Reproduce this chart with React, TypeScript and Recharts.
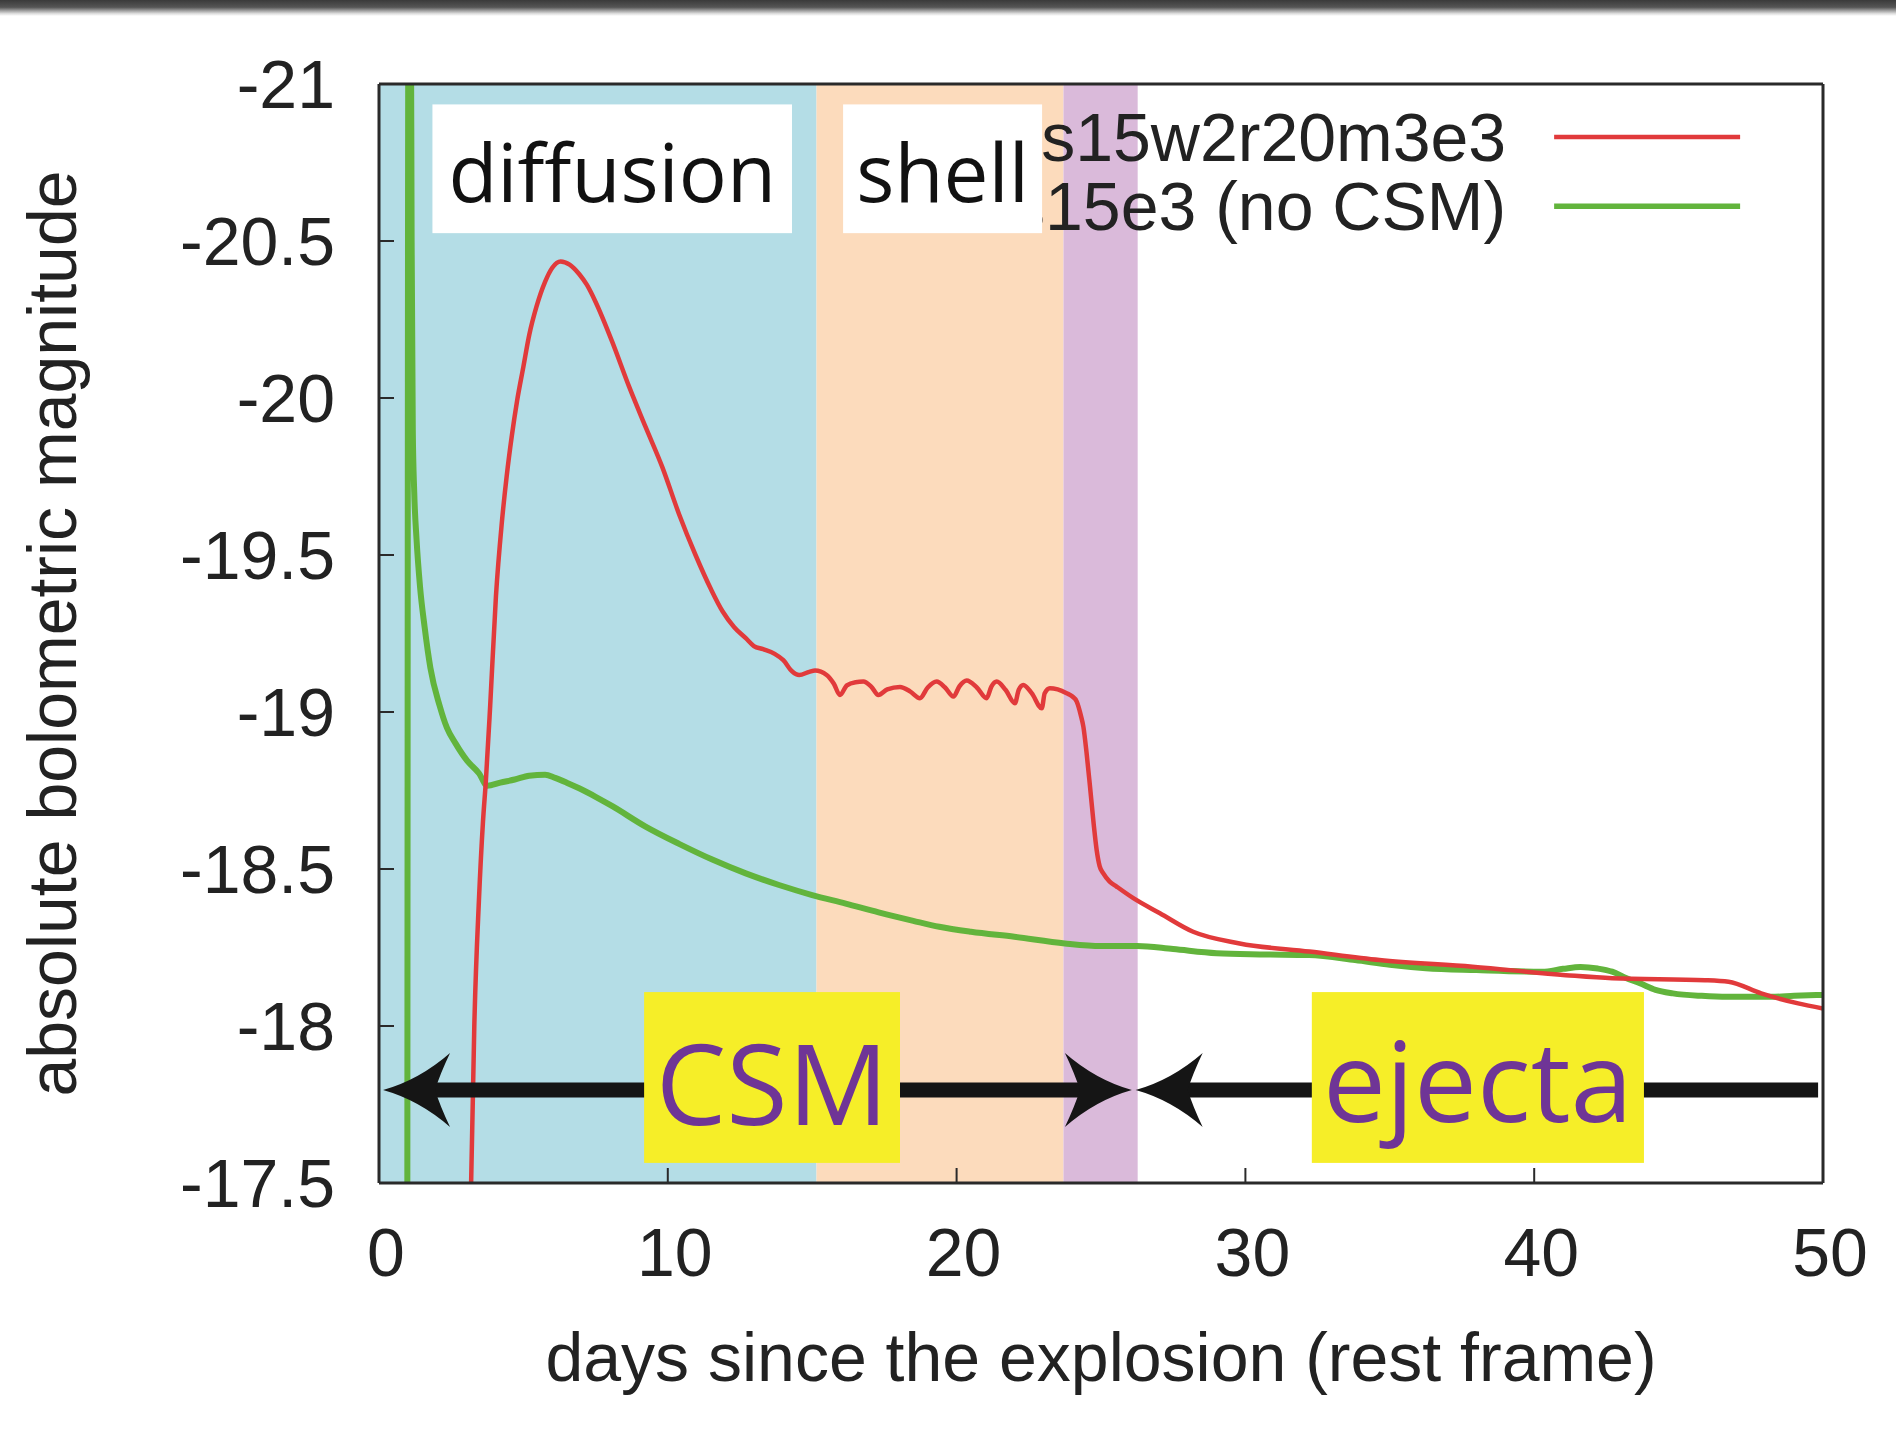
import React from 'react';
import { LineChart, Line, XAxis, YAxis, ReferenceArea, ReferenceLine, ReferenceDot } from 'recharts';

const xTicks = [0, 10, 20, 30, 40, 50];
const yTicks = [-21, -20.5, -20, -19.5, -19, -18.5, -18, -17.5];

const seriesNames = ['s15w2r20m3e3', 's15e3 (no CSM)'];
const seriesColors = ['#e13a3b', '#62b43c'];

const redDays = [3.12, 3.19, 3.3, 3.46, 3.6, 3.7, 3.85, 4.05, 4.25, 4.42, 4.6, 4.78, 5.0, 5.2, 5.45, 5.75, 6.0, 6.29, 6.6, 6.93, 7.2, 7.5, 8.08, 8.66, 9.23, 9.81, 10.39, 10.96, 11.5, 11.9, 12.3, 12.7, 12.98, 13.3, 13.7, 14.0, 14.3, 14.55, 14.9, 15.1, 15.5, 15.75, 15.96, 16.2, 16.5, 16.77, 17.05, 17.29, 17.6, 18.04, 18.4, 18.73, 19.0, 19.31, 19.6, 19.89, 20.1, 20.35, 20.7, 21.04, 21.2, 21.39, 21.7, 22.02, 22.15, 22.31, 22.6, 22.95, 23.05, 23.23, 23.5, 23.81, 24.0, 24.16, 24.3, 24.39, 24.5, 24.62, 24.75, 24.85, 24.95, 25.08, 25.3, 25.54, 26.12, 27.04, 28.19, 29.8, 32.22, 34.64, 37.86, 41.09, 42.7, 45.92, 46.73, 47.86, 49.14, 50];
const redMags = [-17.3, -17.5, -18.0, -18.4, -18.65, -18.78, -19.02, -19.37, -19.6, -19.75, -19.88, -19.99, -20.1, -20.2, -20.29, -20.37, -20.415, -20.435, -20.425, -20.395, -20.36, -20.306, -20.178, -20.036, -19.908, -19.78, -19.63, -19.5, -19.39, -19.32, -19.27, -19.235, -19.21, -19.2, -19.185, -19.165, -19.13, -19.118, -19.128, -19.132, -19.118, -19.09, -19.054, -19.085, -19.095, -19.097, -19.08, -19.054, -19.072, -19.08, -19.065, -19.044, -19.078, -19.097, -19.078, -19.049, -19.082, -19.1, -19.078, -19.044, -19.08, -19.097, -19.07, -19.028, -19.07, -19.086, -19.06, -19.012, -19.06, -19.076, -19.072, -19.06, -19.05, -19.033, -18.99, -18.953, -18.87, -18.762, -18.64, -18.56, -18.51, -18.486, -18.46, -18.444, -18.407, -18.359, -18.3, -18.263, -18.237, -18.21, -18.189, -18.162, -18.152, -18.146, -18.141, -18.104, -18.072, -18.056];

const greenDays = [0.98, 1.02, 1.1, 1.13, 1.17, 1.22, 1.3, 1.42, 1.58, 1.78, 2.1, 2.35, 2.65, 3.05, 3.46, 3.75, 4.2, 4.7, 5.2, 5.75, 6.1, 6.5, 6.93, 7.5, 8.08, 9.23, 10.39, 11.54, 12.7, 13.85, 15.0, 16.16, 17.3, 18.5, 19.4, 20.5, 22.0, 23.75, 25.0, 26.25, 27.5, 29.0, 30.5, 32.2, 33.8, 35.0, 36.25, 38.0, 40.28, 41.0, 41.6, 42.2, 42.7, 43.2, 43.66, 44.2, 44.8, 45.8, 46.7, 48.2, 49.0, 50];
const greenMags = [-17.3, -21.3, -21.3, -20.5, -19.9, -19.7, -19.55, -19.4, -19.27, -19.14, -19.02, -18.95, -18.9, -18.845, -18.805, -18.765, -18.775, -18.785, -18.797, -18.8, -18.79, -18.775, -18.757, -18.73, -18.7, -18.635, -18.58, -18.53, -18.486, -18.449, -18.417, -18.39, -18.362, -18.335, -18.316, -18.3, -18.284, -18.263, -18.255, -18.255, -18.245, -18.232, -18.228, -18.226, -18.21, -18.195, -18.184, -18.178, -18.173, -18.182, -18.188, -18.183, -18.173, -18.152, -18.136, -18.115, -18.104, -18.096, -18.093, -18.093, -18.096, -18.099];

// phase bands
const bandStarts = [0, 15.15, 23.7];
const bandEnds = [15.15, 23.7, 26.27];
const bandColors = ['#b4dde6', '#fcdbbc', '#dabada'];

// white phase labels
const phaseLabels = ['diffusion', 'shell'];
const phaseX1 = [1.85, 16.07];
const phaseX2 = [14.3, 22.96];
const phaseY = [-20.935, -20.525];

// yellow region labels
const regionLabels = ['CSM', 'ejecta'];
const regionX1 = [9.18, 32.3];
const regionX2 = [18.04, 43.8];
const regionY = [-18.108, -17.564];

// arrows
const arrowY = -17.796;
const shaftStarts = [1.6, 27.7];
const shaftEnds = [24.6, 49.83];
const headX = [0.14, 26.07, 26.2];
const headDir = [1, -1, 1];

// legend
const legendX = [40.69, 47.13];
const legendY = [-20.831, -20.611];

const redData = redDays.map((x, i) => ({ x, y: redMags[i] }));
const greenData = greenDays.map((x, i) => ({ x, y: greenMags[i] }));

const FONT = '"Liberation Sans", Arial, Helvetica, sans-serif';
const HUMAN = '"Open Sans", "Noto Sans", sans-serif';

const emptyTick = () => <g />;

const makeHead = (s: number) => (props: any) => {
  const { cx, cy } = props;
  const d = `M ${cx} ${cy} Q ${cx + s * 36} ${cy - 10} ${cx + s * 67} ${cy - 37} Q ${cx + s * 57} ${cy - 16} ${cx + s * 52} ${cy} Q ${cx + s * 57} ${cy + 16} ${cx + s * 67} ${cy + 37} Q ${cx + s * 36} ${cy + 10} ${cx} ${cy} Z`;
  return <path d={d} fill="#151515" stroke="none" />;
};

const makeBox = (text: string, fontSize: number, color: string, family: string, base: number) => (props: any) => {
  const { x, y, width, height, fill } = props;
  return (
    <g>
      <rect x={x} y={y} width={width} height={height} fill={fill} stroke="none" />
      <text x={x + width / 2} y={y + height / 2 + base * fontSize} textAnchor="middle" fontSize={fontSize} fill={color} fontFamily={family}>
        {text}
      </text>
    </g>
  );
};

export default function App() {
  const axisLine = { stroke: '#2a2a2a', strokeWidth: 3 };
  const tickLine = { stroke: '#2a2a2a', strokeWidth: 2 };
  return (
    <div style={{ position: 'absolute', left: 0, top: 0, width: 1896, height: 1432, background: '#fff', overflow: 'hidden', fontFamily: FONT }}>
      <div style={{ position: 'absolute', left: 0, top: 0, width: 1896, height: 16, background: 'linear-gradient(#3a3a3a 0%, #555 45%, #ddd 85%, #fff 100%)' }} />
      <LineChart width={1896} height={1432} margin={{ top: 83, right: 72, bottom: 0, left: 0 }} style={{ position: 'absolute', left: 0, top: 0 }}>
        {bandStarts.map((s, i) => (
          <ReferenceArea key={'band' + i} x1={s} x2={bandEnds[i]} y1={-21} y2={-17.5} fill={bandColors[i]} fillOpacity={1} stroke="none" />
        ))}
        <XAxis
          type="number"
          dataKey="x"
          domain={[0, 50]}
          ticks={xTicks}
          interval={0}
          height={249}
          tickSize={-15}
          tickMargin={60}
          allowDataOverflow
          tick={{ fontSize: 68, fill: '#222', fontFamily: FONT, dx: 7 }}
          axisLine={axisLine}
          tickLine={tickLine}
          label={{ value: 'days since the explosion (rest frame)', position: 'insideBottom', offset: 51, fontSize: 68, fill: '#222', fontFamily: FONT }}
        />
        <YAxis
          type="number"
          domain={[-21, -17.5]}
          reversed
          ticks={yTicks}
          interval={0}
          width={379}
          tickSize={-15}
          tickMargin={59}
          allowDataOverflow
          tick={{ fontSize: 68, fill: '#222', fontFamily: FONT }}
          axisLine={axisLine}
          tickLine={tickLine}
          label={{ value: 'absolute bolometric magnitude', angle: -90, position: 'insideLeft', offset: 52, fontSize: 68, fill: '#222', fontFamily: FONT, style: { textAnchor: 'middle' } }}
        />
        <XAxis xAxisId="top" orientation="top" type="number" domain={[0, 50]} ticks={xTicks} interval={0} height={1} tickSize={-15} tick={emptyTick} axisLine={axisLine} tickLine={tickLine} />
        <YAxis yAxisId="right" orientation="right" type="number" domain={[-21, -17.5]} reversed ticks={yTicks} interval={0} width={1} tickSize={-15} tick={emptyTick} axisLine={axisLine} tickLine={tickLine} />

        <Line data={greenData} dataKey="y" name={seriesNames[1]} type="monotone" stroke={seriesColors[1]} strokeWidth={6} dot={false} activeDot={false} isAnimationActive={false} />
        <Line data={redData} dataKey="y" name={seriesNames[0]} type="monotone" stroke={seriesColors[0]} strokeWidth={4.5} dot={false} activeDot={false} isAnimationActive={false} />

        {shaftStarts.map((s, i) => (
          <ReferenceLine key={'shaft' + i} zIndex={1500} segment={[{ x: s, y: arrowY }, { x: shaftEnds[i], y: arrowY }]} stroke="#151515" strokeWidth={15} />
        ))}
        {headX.map((x, i) => (
          <ReferenceDot key={'head' + i} zIndex={1500} x={x} y={arrowY} r={1} shape={makeHead(headDir[i])} />
        ))}

        {seriesNames.map((n, i) => (
          <ReferenceLine
            key={'leg' + i}
            segment={[{ x: legendX[0], y: legendY[i] }, { x: legendX[1], y: legendY[i] }]}
            stroke={seriesColors[i]}
            strokeWidth={i === 0 ? 4.5 : 5.5}
            label={{ value: n, position: 'left', offset: 48, fontSize: 68, fill: '#222', fontFamily: FONT }}
          />
        ))}

        {phaseLabels.map((t, i) => (
          <ReferenceArea
            key={'ph' + i}
            zIndex={2500}
            x1={phaseX1[i]}
            x2={phaseX2[i]}
            y1={phaseY[0]}
            y2={phaseY[1]}
            fill="#ffffff"
            fillOpacity={1}
            stroke="none"
            shape={makeBox(t, 80, '#111', HUMAN, 0.42)}
          />
        ))}
        {regionLabels.map((t, i) => (
          <ReferenceArea
            key={'rg' + i}
            zIndex={2500}
            x1={regionX1[i]}
            x2={regionX2[i]}
            y1={regionY[0]}
            y2={regionY[1]}
            fill="#f6ee28"
            fillOpacity={1}
            stroke="none"
            shape={makeBox(t, 112, '#6f3596', HUMAN, i === 0 ? 0.42 : 0.4)}
          />
        ))}
      </LineChart>
    </div>
  );
}
